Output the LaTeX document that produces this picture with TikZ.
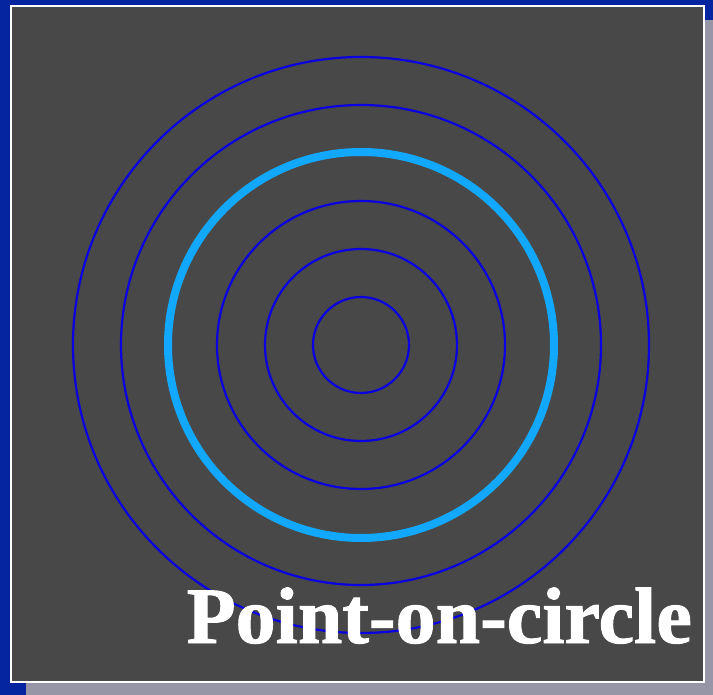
\documentclass[tikz,border=0pt]{standalone}
\usepackage{fontspec}
\setmainfont{Liberation Serif}
\newfontfamily\titlefont{Liberation Serif}[UprightFont=*-Bold, FakeBold=1.2]
\definecolor{bgblue}{HTML}{0525A0}
\definecolor{shadowgrey}{HTML}{9696A6}
\definecolor{panelgrey}{HTML}{484848}
\definecolor{ringblue}{HTML}{0A00E0}
\definecolor{ringlight}{HTML}{12A8FF}
\tikzset{
  ring/.style={draw=ringblue, line width=2.2pt},
  thickring/.style={draw=ringlight, line width=8pt},
  title/.style={text=white, font=\titlefont\fontsize{80}{90}\selectfont, inner sep=0pt}
}
\begin{document}
\begin{tikzpicture}[x=1pt,y=-1pt]
\fill[bgblue] (0,0) rectangle (713,695);
\useasboundingbox (0,0) rectangle (713,695);
\fill[shadowgrey] (26,20) rectangle (713,695);
\draw[fill=panelgrey, draw=white, line width=2.5pt] (11,6) rectangle (704,682);
\coordinate (c) at (361,345);
\draw[ring] (c) circle[radius=48];
\draw[ring] (c) circle[radius=96];
\draw[ring] (c) circle[radius=144];
\draw[thickring] (c) circle[radius=193];
\draw[ring] (c) circle[radius=240];
\draw[ring] (c) circle[radius=288];
\node[title, anchor=base east] (t) at (692,643) {Point-on-circle};
\end{tikzpicture}
\end{document}
